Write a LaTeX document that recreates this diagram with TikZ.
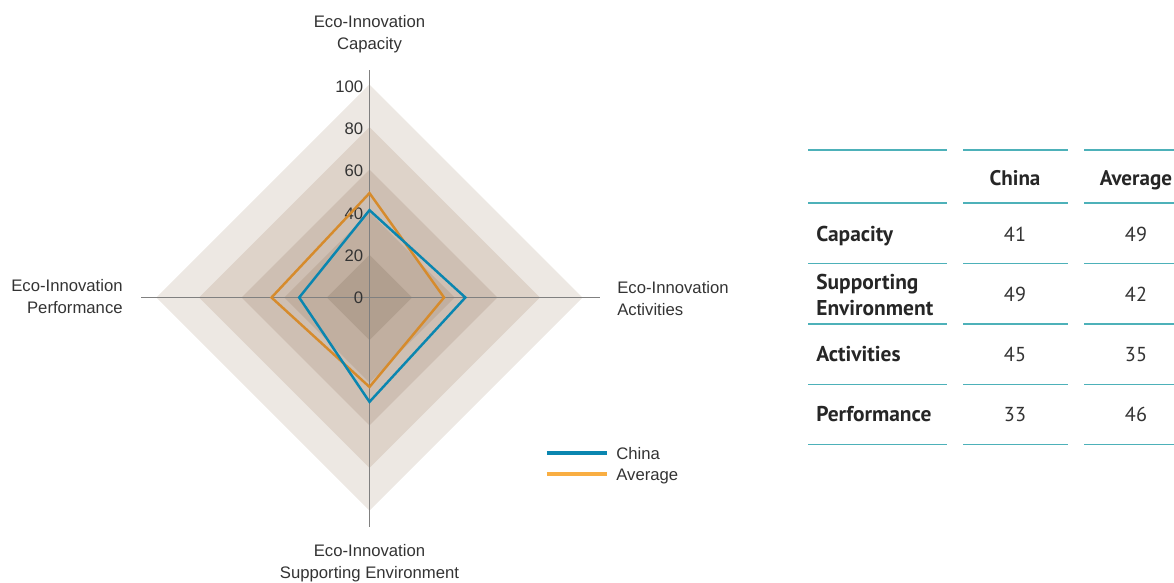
\documentclass[tikz,border=0pt]{standalone}
\usepackage{fontspec}
\setmainfont{Liberation Sans}
\newfontfamily\tablefont{PT Sans}
\newfontfamily\numfont{PT Sans}
\usepackage{xcolor}
\usepackage{tikz}

\definecolor{bandA}{HTML}{B19F8F}
\definecolor{bandB}{HTML}{C1AFA0}
\definecolor{bandC}{HTML}{CEBFB3}
\definecolor{bandD}{HTML}{DED3C9}
\definecolor{bandE}{HTML}{EDE8E3}
\definecolor{chinablue}{HTML}{0A86B0}
\definecolor{avgline}{HTML}{D68B2C}
\definecolor{avgkey}{HTML}{F9AE42}
\definecolor{tealrule}{HTML}{4DB1B9}
\definecolor{txt}{HTML}{333333}

\tikzset{
	axisline/.style={draw=black!50, line width=0.6pt},
	ticklabel/.style={anchor=east, inner sep=0pt, text=txt, font=\fontsize{9.5}{12.5}\selectfont},
	axislabel/.style={inner sep=0pt, text=txt, font=\fontsize{9.5}{12.5}\selectfont},
	chinaline/.style={draw=chinablue, line width=1.4pt, line join=miter},
	avgplot/.style={draw=avgline, line width=1.4pt, line join=miter},
	keyline/.style={line width=2.6pt},
	rowlabel/.style={anchor=base west, inner sep=0pt, text=black!85, align=left, font=\tablefont\bfseries\fontsize{12.2}{14.8}\selectfont},
	headlabel/.style={anchor=base, inner sep=0pt, text=black!85, font=\tablefont\bfseries\fontsize{12}{14.8}\selectfont},
	cellnum/.style={anchor=base, inner sep=0pt, text=txt, font=\numfont\fontsize{11.5}{13}\selectfont},
	tablerule/.style={draw=tealrule, line width=0.9pt},
	toprule/.style={draw=tealrule, line width=1.6pt}
}

\begin{document}
\begin{tikzpicture}[x=0.02cm,y=0.02cm]
	\newcommand\rr{2.13}
	\useasboundingbox (-369.5,-284.5) rectangle (804.5,297.5);

	% shaded levels of the radar
	\foreach \v/\c in {100/bandE,80/bandD,60/bandC,40/bandB,20/bandA}
		\fill[\c] (90:\v*\rr) -- (0:\v*\rr) -- (-90:\v*\rr) -- (180:\v*\rr) -- cycle;

	\coordinate (top) at (0,228);
	\coordinate (bottom) at (0,-229);
	\coordinate (left) at (-228,0);
	\coordinate (right) at (230,0);
	\draw[axisline] (bottom) -- (top);
	\draw[axisline] (left) -- (right);

	\foreach \v in {0,20,...,100}
		\node[ticklabel] (tick\v) at (-6,\v*2.105) {\v};

	\draw[avgplot] (90:49*\rr) -- (0:35*\rr) -- (-90:42*\rr) -- (180:46*\rr) -- cycle;
	\draw[chinaline] (90:41*\rr) -- (0:45*\rr) -- (-90:49*\rr) -- (180:33*\rr) -- cycle;

	\node[axislabel, align=center] (capacity) at (0,263.5) {Eco-Innovation\\Capacity};
	\node[axislabel, align=left, anchor=west] (activities) at (247.5,-1.5) {Eco-Innovation\\Activities};
	\node[axislabel, align=center] (supporting) at (0,-266) {Eco-Innovation\\Supporting Environment};
	\node[axislabel, align=right, anchor=east] (performance) at (-246.5,0.5) {Eco-Innovation\\Performance};

	% legend
	\coordinate (keyA) at (177.5,-155.5);
	\coordinate (keyB) at (237.5,-155.5);
	\coordinate (keyC) at (177.5,-176.5);
	\coordinate (keyD) at (237.5,-176.5);
	\draw[keyline, chinablue] (keyA) -- (keyB);
	\draw[keyline, avgkey] (keyC) -- (keyD);
	\node[axislabel, anchor=west] (keychina) at (246.5,-156) {China};
	\node[axislabel, anchor=west] (keyavg) at (246.5,-179) {Average};

	% table
	\foreach \a/\b in {438.5/577.5,593.5/698.5,714.5/804.5}{
		\draw[toprule] (\a,147.5) -- (\b,147.5);
		\foreach \y in {94.5,34,-26.5,-87,-147}
			\draw[tablerule] (\a,\y) -- (\b,\y);
	}

	\node[headlabel] (hchina) at (645.5,112.5) {China};
	\node[headlabel] (havg) at (766.5,112.5) {Average};

	\node[rowlabel] (rcap) at (446.5,55.8) {Capacity};
	\node[rowlabel] (rsup) at (446.5,-18) {Supporting\\Environment};
	\node[rowlabel] (ract) at (446.5,-64) {Activities};
	\node[rowlabel] (rperf) at (446.5,-124) {Performance};

	\foreach \y/\c/\a [count=\i] in {55.8/41/49,-4.2/49/42,-64/45/35,-124/33/46}{
		\node[cellnum] (c\i) at (645.5,\y) {\c};
		\node[cellnum] (a\i) at (766.5,\y) {\a};
	}
\end{tikzpicture}
\end{document}
